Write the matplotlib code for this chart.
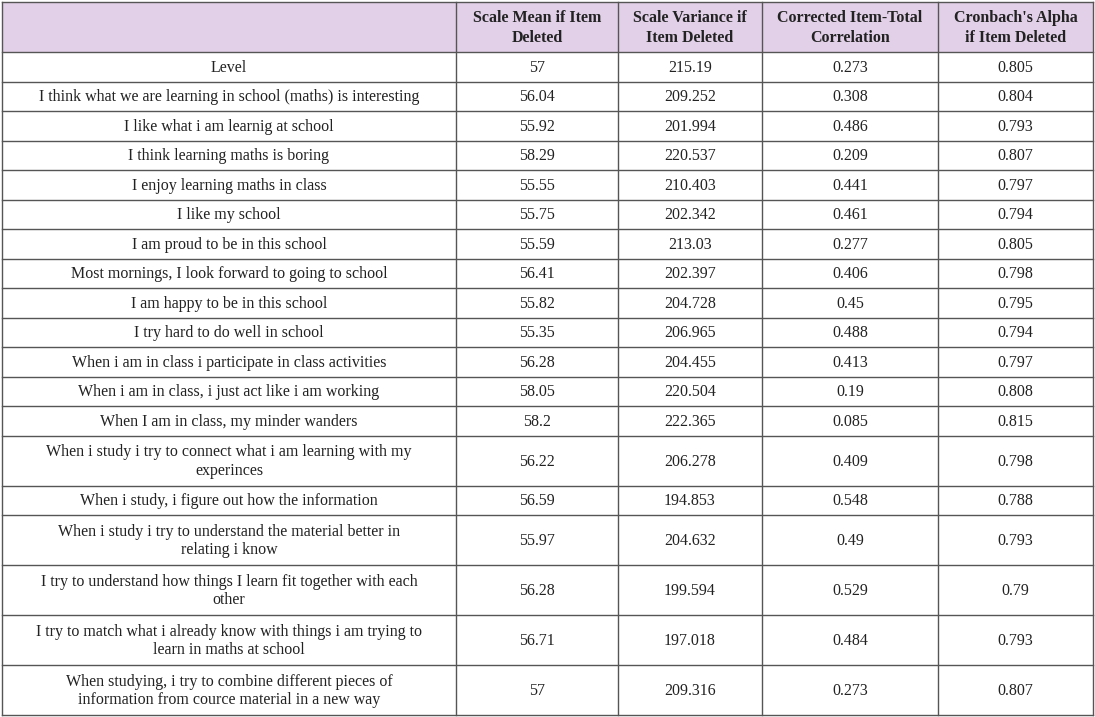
import matplotlib
matplotlib.use("Agg")
import matplotlib.pyplot as plt
from matplotlib.patches import Rectangle

headers = ["", "Scale Mean if Item\nDeleted", "Scale Variance if\nItem Deleted",
           "Corrected Item-Total\nCorrelation", "Cronbach's Alpha\nif Item Deleted"]
items = ["Level",
         "I think what we are learning in school (maths) is interesting",
         "I like what i am learnig at school",
         "I think learning maths is boring",
         "I enjoy learning maths in class",
         "I like my school",
         "I am proud to be in this school",
         "Most mornings, I look forward to going to school",
         "I am happy to be in this school",
         "I try hard to do well in school",
         "When i am in class i participate in class activities",
         "When i am in class, i just act like i am working",
         "When I am in class, my minder wanders",
         "When i study i try to connect what i am learning with my\nexperinces",
         "When i study, i figure out how the information",
         "When i study i try to understand the material better in\nrelating i know",
         "I try to understand how things I learn fit together with each\nother",
         "I try to match what i already know with things i am trying to\nlearn in maths at school",
         "When studying, i try to combine different pieces of\ninformation from cource material in a new way"]
scale_mean = ["57", "56.04", "55.92", "58.29", "55.55", "55.75", "55.59", "56.41", "55.82", "55.35",
              "56.28", "58.05", "58.2", "56.22", "56.59", "55.97", "56.28", "56.71", "57"]
scale_var = ["215.19", "209.252", "201.994", "220.537", "210.403", "202.342", "213.03", "202.397",
             "204.728", "206.965", "204.455", "220.504", "222.365", "206.278", "194.853", "204.632",
             "199.594", "197.018", "209.316"]
corr = ["0.273", "0.308", "0.486", "0.209", "0.441", "0.461", "0.277", "0.406", "0.45", "0.488",
        "0.413", "0.19", "0.085", "0.409", "0.548", "0.49", "0.529", "0.484", "0.273"]
alpha = ["0.805", "0.804", "0.793", "0.807", "0.797", "0.794", "0.805", "0.798", "0.795", "0.794",
         "0.797", "0.808", "0.815", "0.798", "0.788", "0.793", "0.79", "0.793", "0.807"]

W, H = 1095, 717
fig = plt.figure(figsize=(W/100, H/100), dpi=100)
ax = fig.add_axes([0, 0, 1, 1])
ax.set_xlim(0, W); ax.set_ylim(H, 0); ax.axis("off")

col_x = [2, 456, 618, 762, 938, 1093]
heights = [50] + [50 if "\n" in t else 29.5 for t in items]
ys = [2]
for h in heights:
    ys.append(ys[-1] + h)

ax.add_patch(Rectangle((col_x[0], ys[0]), col_x[-1]-col_x[0], heights[0],
                       facecolor="#E2D0E8", edgecolor="none"))
lc = "#555555"
for y in ys:
    ax.plot([col_x[0], col_x[-1]], [y, y], color=lc, lw=1)
for x in col_x:
    ax.plot([x, x], [ys[0], ys[-1]], color=lc, lw=1)

font = dict(family="Liberation Serif", fontsize=11.5, color="#222222", linespacing=1.25)
for j, h in enumerate(headers):
    cx = (col_x[j] + col_x[j+1]) / 2
    ax.text(cx, (ys[0]+ys[1])/2 + 1, h, ha="center", va="center", weight="bold", **font)
for i in range(len(items)):
    cy = (ys[i+1] + ys[i+2]) / 2 + 1
    row = [items[i], scale_mean[i], scale_var[i], corr[i], alpha[i]]
    for j, t in enumerate(row):
        cx = (col_x[j] + col_x[j+1]) / 2
        ax.text(cx, cy, t, ha="center", va="center", **font)

fig.savefig("out.png", dpi=100)
